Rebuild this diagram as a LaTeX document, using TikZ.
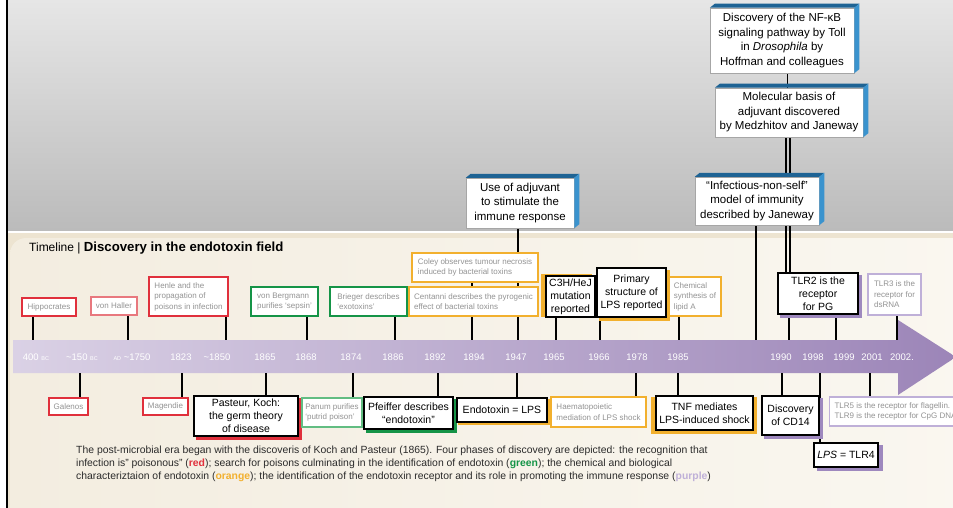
\documentclass[tikz,border=0pt]{standalone}
\usepackage{fontspec}
\setmainfont{Liberation Sans}
\usetikzlibrary{calc}
\pgfdeclarelayer{bg}
\pgfdeclarelayer{lines}
\pgfsetlayers{bg,lines,main}
\definecolor{cred}{HTML}{E0303C}
\definecolor{csalmon}{HTML}{E8787E}
\definecolor{cgreen}{HTML}{159447}
\definecolor{clgreen}{HTML}{62BD82}
\definecolor{corange}{HTML}{F2B02E}
\definecolor{cpurple}{HTML}{9E88BE}
\definecolor{clpurple}{HTML}{BFB0D8}
\definecolor{cgraytext}{HTML}{939393}
\definecolor{cbluetop}{HTML}{1E6394}
\definecolor{cblueside}{HTML}{3A93CE}
\definecolor{bandL}{HTML}{DAD1E5}
\definecolor{bandM}{HTML}{C6B7D6}
\definecolor{bandR}{HTML}{9C85B8}
\definecolor{creamA}{HTML}{EDE4D1}
\definecolor{creamB}{HTML}{F3EDE0}
\definecolor{creamC}{HTML}{FAF7F0}
\definecolor{grayA}{HTML}{E6E6E6}
\definecolor{grayB}{HTML}{BBBBBB}
\definecolor{captext}{HTML}{2A2A2A}
\newcommand\bevelbox[1]{%
  \fill[cbluetop] (#1.north west) -- ++(5,-4) -- ($(#1.north east)+(5,-4)$) -- (#1.north east) -- cycle;
  \fill[cblueside] (#1.north east) -- ++(5,-4) -- ($(#1.south east)+(5,-4)$) -- (#1.south east) -- cycle;}
\newcommand\boxshadow[4]{\fill[#2] ($(#1.north west)+(#3,#4)$) rectangle ($(#1.south east)+(#3,#4)$);}
\tikzset{
  lbox/.style={draw=#1, line width=1.2pt, fill=white, font=\fontsize{8}{10.5}\selectfont, text=cgraytext, align=left, inner sep=1pt},
  dbox/.style={draw=black, line width=1.1pt, fill=white, font=\fontsize{10.5}{13}\selectfont, align=center, inner sep=1pt},
  topbox/.style={draw=gray!70, line width=0.5pt, fill=white, font=\fontsize{11.5}{14.5}\selectfont, align=center, inner sep=1pt},
  conn/.style={line width=1.2pt, black},
  yearlbl/.style={text=white, font=\fontsize{9.5}{10}\selectfont, inner sep=0pt, anchor=base},
}
\newcommand\sm[1]{{\fontsize{5.5}{6}\selectfont #1}}
\begin{document}
\begin{tikzpicture}[x=1pt,y=-1pt]
\useasboundingbox (0,0) rectangle (953,508);
% ---------- background ----------
\begin{pgfonlayer}{bg}
\fill[white] (0,0) rectangle (953,508);
\shade[top color=grayA, bottom color=grayB] (7,0) rectangle (953,230);
\fill[creamA] (7,233) rectangle (953,508);
\shade[left color=creamB, right color=creamC, rounded corners=16] (10,238) rectangle (975,530);
\shade[left color=bandL, middle color=bandM, right color=bandR] (13,340) -- (898,340) -- (898,320) -- (956,357) -- (898,395) -- (898,373) -- (13,373) -- cycle;
\draw[black, line width=1.2pt] (7,0) -- (7,508);
\end{pgfonlayer}
% ---------- title ----------
\node[anchor=base west, inner sep=0, font=\fontsize{12}{14}\selectfont] (title) at (29,251) {Timeline | {\fontsize{13.2}{14}\selectfont\bfseries Discovery in the endotoxin field}};
% ---------- year labels ----------
\node[yearlbl] (y01) at (36,360) {400 \sm{BC}};
\node[yearlbl] (y02) at (82,360) {\textasciitilde150 \sm{BC}};
\node[yearlbl] (y03) at (132,360) {\sm{AD} \textasciitilde1750};
\node[yearlbl] (y04) at (181,360) {1823};
\node[yearlbl] (y05) at (217,360) {\textasciitilde1850};
\node[yearlbl] (y06) at (265,360) {1865};
\node[yearlbl] (y07) at (306,360) {1868};
\node[yearlbl] (y08) at (351,360) {1874};
\node[yearlbl] (y09) at (393,360) {1886};
\node[yearlbl] (y10) at (435,360) {1892};
\node[yearlbl] (y11) at (474,360) {1894};
\node[yearlbl] (y12) at (516,360) {1947};
\node[yearlbl] (y13) at (554,360) {1965};
\node[yearlbl] (y14) at (599,360) {1966};
\node[yearlbl] (y15) at (637,360) {1978};
\node[yearlbl] (y16) at (678,360) {1985};
\node[yearlbl] (y17) at (781,360) {1990};
\node[yearlbl] (y18) at (813,360) {1998};
\node[yearlbl] (y19) at (844,360) {1999};
\node[yearlbl] (y20) at (872,360) {2001};
\node[yearlbl] (y21) at (902,360) {2002.};
% ---------- upper boxes ----------
\node[lbox=cred, minimum width=54, minimum height=18] (hip) at (49,307) {Hippocrates};
\node[lbox=csalmon, minimum width=46, minimum height=18] (haller) at (114,306) {von Haller};
\node[lbox=cred, minimum width=79, minimum height=39] (henle) at (188.5,296.5) {Henle and the\\propagation of\\poisons in infection};
\node[lbox=cgreen, minimum width=67, minimum height=29] (bergmann) at (284.5,301.5) {von Bergmann\\purifies `sepsin'};
\node[lbox=cgreen, minimum width=77, minimum height=29] (brieger) at (368.5,301.5) {Brieger describes\\`exotoxins'};
\node[lbox=corange, minimum width=129, minimum height=29] (centanni) at (473.5,301.5) {Centanni describes the pyrogenic\\effect of bacterial toxins};
\node[lbox=corange, minimum width=126, minimum height=29] (coley) at (475,267.5) {Coley observes tumour necrosis\\induced by bacterial toxins};
\node[dbox, minimum width=49, minimum height=41] (c3h) at (570.5,296.5) {C3H/HeJ\\mutation\\reported};
\node[dbox, minimum width=69, minimum height=49] (primary) at (631.5,292.5) {Primary\\structure of\\LPS reported};
\node[lbox=corange, minimum width=52, minimum height=39] (chem) at (695,296.5) {Chemical\\synthesis of\\lipid A};
\node[dbox, minimum width=80, minimum height=41] (tlr2) at (818,293.5) {TLR2 is the\\receptor\\for PG};
\node[lbox=clpurple, minimum width=53, minimum height=41] (tlr3) at (894.5,294.5) {TLR3 is the\\receptor for\\dsRNA};
% ---------- top blue boxes ----------
\node[topbox, minimum width=144, minimum height=65] (nfkb) at (782,40.5) {Discovery of the NF-κB\\signaling pathway by Toll\\in \textit{Drosophila} by\\Hoffman and colleagues};
\node[topbox, minimum width=148, minimum height=49] (medz) at (789,112.5) {Molecular basis of\\adjuvant discovered\\by Medzhitov and Janeway};
\node[topbox, minimum width=124, minimum height=48] (janeway) at (757,201) {“Infectious-non-self”\\model of immunity\\described by Janeway};
\node[topbox, minimum width=108, minimum height=50] (adj) at (520,203) {Use of adjuvant\\to stimulate the\\immune response};
\bevelbox{nfkb}
\bevelbox{medz}
\bevelbox{janeway}
\bevelbox{adj}
% ---------- lower boxes ----------
\node[lbox=cred, minimum width=39, minimum height=17] (galenos) at (68.5,406.5) {Galenos};
\node[lbox=cred, minimum width=45, minimum height=17] (magendie) at (165.5,406.5) {Magendie};
\node[dbox, minimum width=104, minimum height=40] (pasteur) at (246,416) {Pasteur, Koch:\\the germ theory\\of disease};
\node[lbox=clgreen, minimum width=60, minimum height=29] (panum) at (332,412.5) {Panum purifies\\`putrid poison'};
\node[dbox, minimum width=89, minimum height=32] (pfeiffer) at (408.5,413) {Pfeiffer describes\\“endotoxin”};
\node[dbox, minimum width=90, minimum height=24] (endolps) at (502,410) {Endotoxin = LPS};
\node[lbox=corange, minimum width=95, minimum height=30] (haem) at (598.5,412) {Haematopoietic\\mediation of LPS shock};
\node[dbox, minimum width=97, minimum height=34] (tnf) at (704.5,413) {TNF mediates\\LPS-induced shock};
\node[dbox, minimum width=57, minimum height=39] (cd14) at (790.5,415.5) {Discovery\\of CD14};
\node[dbox, minimum width=64, minimum height=24] (lpstlr4) at (846,455) {\textit{LPS} = TLR4};
\node[lbox=clpurple, anchor=west, minimum height=29, inner xsep=5pt] (tlr59) at (829,411.5) {TLR5 is the receptor for flagellin.\\TLR9 is the receptor for CpG DNA};
% ---------- caption ----------
\node[anchor=north west, align=left, inner sep=0, text=captext, font=\fontsize{10.4}{13}\selectfont] (cap) at (76,446) {The post-microbial era began with the discoveris of Koch and Pasteur (1865). Four phases of discovery are depicted: the recognition that\\
infection is” poisonous” (\textcolor{cred}{\textbf{red}}); search for poisons culminating in the identification of endotoxin (\textcolor{cgreen}{\textbf{green}}); the chemical and biological\\
characteriztaion of endotoxin (\textcolor{corange}{\textbf{orange}}); the identification of the endotoxin receptor and its role in promoting the immune response (\textcolor{clpurple}{\textbf{purple}})};
% ---------- tick coordinates ----------
\foreach \n/\x in {u033/33,u128/128,u226/226,u307/307,u395/395,u472/472,u518/518,u556/556,u600/600,u679/679,u756/756,u789/789,u836/836,u897/897}
  \coordinate (\n) at (\x,340);
\foreach \n/\x in {l080/80,l182/182,l266/266,l353/353,l438/438,l517/517,l636/636,l678/678,l782/782,l820/820,l870/870}
  \coordinate (\n) at (\x,373);
\coordinate (dA) at (786,200);
\coordinate (dB) at (790,200);
\coordinate (dC) at (787.5,80);
% ---------- connectors and shadows ----------
\begin{pgfonlayer}{lines}
\draw[conn] (hip.south -| u033) -- (u033);
\draw[conn] (haller.south -| u128) -- (u128);
\draw[conn] (henle.south -| u226) -- (u226);
\draw[conn] (bergmann.south -| u307) -- (u307);
\draw[conn] (brieger.south -| u395) -- (u395);
\draw[conn] (coley.south -| u472) -- (u472);
\draw[conn] (adj.south -| u518) -- (u518);
\draw[conn] (c3h.south -| u556) -- (u556);
\draw[conn] (primary.south -| u600) -- (u600);
\draw[conn] (chem.south -| u679) -- (u679);
\draw[conn] (janeway.south -| u756) -- (u756);
\draw[conn] (tlr2.south -| u789) -- (u789);
\draw[conn] (tlr2.south -| u836) -- (u836);
\draw[conn] (tlr3.south -| u897) -- (u897);
\draw[conn] (nfkb.south -| dC) -- (medz.north -| dC);
\draw[conn] (medz.south -| dA) -- (tlr2.north -| dA);
\draw[conn] (medz.south -| dB) -- (tlr2.north -| dB);
\draw[conn] (l080) -- (galenos.north -| l080);
\draw[conn] (l182) -- (magendie.north -| l182);
\draw[conn] (l266) -- (pasteur.north -| l266);
\draw[conn] (l353) -- (panum.north -| l353);
\draw[conn] (l438) -- (pfeiffer.north -| l438);
\draw[conn] (l517) -- (endolps.north -| l517);
\draw[conn] (l636) -- (haem.north -| l636);
\draw[conn] (l678) -- (tnf.north -| l678);
\draw[conn] (l782) -- (cd14.north -| l782);
\draw[conn] (l820) -- (lpstlr4.north -| l820);
\draw[conn] (l870) -- (tlr59.north -| l870);
\boxshadow{c3h}{corange}{-4}{-1}
\boxshadow{primary}{corange}{3}{3}
\boxshadow{tlr2}{cpurple}{3}{3}
\boxshadow{pasteur}{cred}{3}{3}
\boxshadow{pfeiffer}{cgreen}{3}{3}
\boxshadow{endolps}{corange}{2}{2}
\fill[corange] ($(tnf.north west)+(-4,2)$) rectangle ($(tnf.south east)+(3,3)$);
\boxshadow{cd14}{cpurple}{3}{3}
\boxshadow{lpstlr4}{cpurple}{4}{3}
\end{pgfonlayer}
\end{tikzpicture}
\end{document}
